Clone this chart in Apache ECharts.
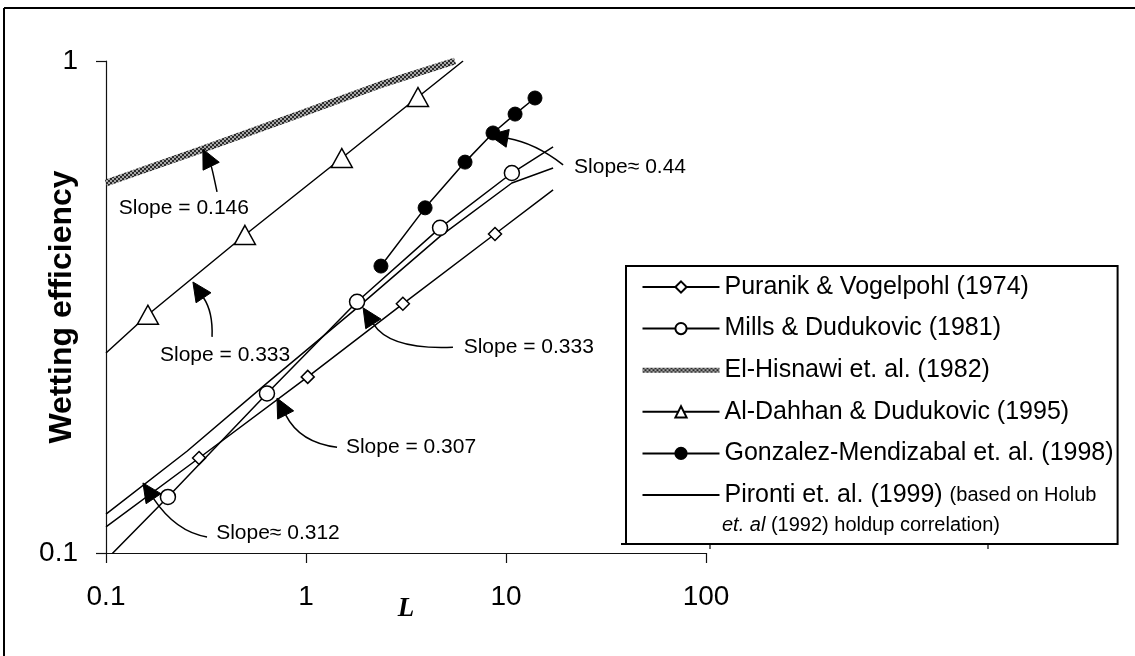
<!DOCTYPE html>
<html><head><meta charset="utf-8">
<script src="https://cdn.jsdelivr.net/npm/echarts@6/dist/echarts.min.js"></script>
<style>html,body{margin:0;padding:0;background:#fff}#c{width:1135px;height:656px}</style>
</head><body><div id="c"></div>
<script>
// ---------------- data ----------------
const xTicks = [0.1, 1, 10, 100];
const yTicks = [0.1, 1];

// Puranik & Vogelpohl (1974)
const puranikLineL = [0.1, 17.2];
const puranikLineE = [0.113, 0.547];
const puranikMarkL = [0.292, 1.02, 3.05, 8.81];
const puranikMarkE = [0.156, 0.228, 0.321, 0.445];

// Mills & Dudukovic (1981)
const millsLineL = [0.1, 17.2];
const millsLineE = [0.0968, 0.669];
const millsMarkL = [0.204, 0.638, 1.80, 4.68, 10.7];
const millsMarkE = [0.130, 0.211, 0.324, 0.458, 0.592];

// El-Hisnawi et. al. (1982)
const hisnawiL = [0.1, 0.295, 0.933, 2.34, 5.56];
const hisnawiE = [0.565, 0.659, 0.780, 0.894, 1.0];

// Al-Dahhan & Dudukovic (1995)
const dahhanLineL = [0.1, 6.1];
const dahhanLineE = [0.255, 1.0];
const dahhanMarkL = [0.162, 0.495, 1.51, 3.63];
const dahhanMarkE = [0.305, 0.443, 0.635, 0.845];

// Gonzalez-Mendizabal et. al. (1998)
const gonzMarkL = [2.37, 3.94, 6.24, 8.61, 11.1, 13.96];
const gonzMarkE = [0.383, 0.503, 0.623, 0.714, 0.780, 0.841];

// Pironti et. al. (1999)
const pirontiL = [0.1, 0.254, 0.638, 1.80, 4.68, 10.7, 17.2];
const pirontiE = [0.120, 0.161, 0.2215, 0.315, 0.44, 0.565, 0.606];

const seriesNames = [
  'Puranik & Vogelpohl (1974)',
  'Mills & Dudukovic (1981)',
  'El-Hisnawi et. al. (1982)',
  'Al-Dahhan & Dudukovic (1995)',
  'Gonzalez-Mendizabal et. al. (1998)',
  'Pironti et. al. (1999)'
];

// slope annotations: text, text position, arrow tail, control point, arrow tip (data coords)
const annotations = [
  {text: 'Slope = 0.146', at: [0.245, 0.503], tail: [0.359, 0.542], ctrl: [0.339, 0.606], tip: [0.305, 0.662]},
  {text: 'Slope = 0.333', at: [0.394, 0.2526], tail: [0.339, 0.275], ctrl: [0.343, 0.309], tip: [0.272, 0.3555]},
  {text: 'Slope = 0.333', at: [13.0, 0.262], tail: [5.43, 0.262], ctrl: [2.63, 0.2586], tip: [1.93, 0.315]},
  {text: 'Slope = 0.307', at: [3.35, 0.164], tail: [1.43, 0.164], ctrl: [0.933, 0.1674], tip: [0.716, 0.2065]},
  {text: 'Slope\u2248 0.312', at: [0.724, 0.1098], tail: [0.320, 0.1078], ctrl: [0.224, 0.1103], tip: [0.153, 0.1388]},
  {text: 'Slope\u2248 0.44', at: [41.7, 0.609], tail: [19.3, 0.615], ctrl: [13.96, 0.681], tip: [8.22, 0.707]}
];

// ---------------- helpers ----------------
function build(lineL, lineE, markL, markE) {
  const pts = [];
  lineL.forEach((l, i) => pts.push({value: [l, lineE[i]], symbol: 'none'}));
  markL.forEach((l, i) => pts.push({value: [l, markE[i]]}));
  pts.sort((a, b) => a.value[0] - b.value[0]);
  return pts;
}
const pair = (L, E) => L.map((l, i) => [l, E[i]]);

const FONT = '"Liberation Sans", Arial, Helvetica, sans-serif';

// hatched pattern for El-Hisnawi line
const pc = document.createElement('canvas');
pc.width = 4; pc.height = 4;
const g = pc.getContext('2d');
g.fillStyle = '#a8a8a8'; g.fillRect(0, 0, 4, 4);
g.fillStyle = '#2a2a2a'; g.fillRect(0, 0, 2, 2); g.fillRect(2, 2, 2, 2);
const hatch = {image: pc, repeat: 'repeat'};

const chart = echarts.init(document.getElementById('c'), null, {renderer: 'canvas'});

const baseLine = {type: 'line', animation: false, showAllSymbol: true, clip: true,
  lineStyle: {color: '#000', width: 1.5}};
const noIcon = {color: 'rgba(0,0,0,0)', borderColor: 'rgba(0,0,0,0)'};

const option = {
  animation: false,
  backgroundColor: '#fff',
  grid: {left: 106, right: 429, top: 61, bottom: 103, containLabel: false},
  xAxis: {
    type: 'log', logBase: 10, min: 0.1, max: 100,
    name: 'L', nameLocation: 'middle', nameGap: 43, nameMoveOverlap: false,
    nameTextStyle: {fontFamily: '"Liberation Serif", "Times New Roman", serif', fontStyle: 'italic', fontWeight: 'bold', fontSize: 27, color: '#000'},
    axisLine: {lineStyle: {color: '#111', width: 1.2}},
    axisTick: {show: true, length: 10, inside: false, lineStyle: {color: '#111', width: 1.2}},
    axisLabel: {fontFamily: FONT, fontSize: 28, color: '#000', margin: 30,
      formatter: v => { const t = xTicks.find(k => Math.abs(k - v) / k < 1e-6); return t === undefined ? '' : String(t); }},
    splitLine: {show: false}, minorTick: {show: false}
  },
  yAxis: {
    type: 'log', logBase: 10, min: 0.1, max: 1,
    name: 'Wetting efficiency', nameLocation: 'middle', nameGap: 28, nameMoveOverlap: false,
    nameTextStyle: {fontFamily: FONT, fontWeight: 'bold', fontSize: 32, color: '#000'},
    axisLine: {lineStyle: {color: '#111', width: 1.2}},
    axisTick: {show: true, length: 10, inside: false, lineStyle: {color: '#111', width: 1.2}},
    axisLabel: {fontFamily: FONT, fontSize: 28, color: '#000', margin: 28,
      formatter: v => { const t = yTicks.find(k => Math.abs(k - v) / k < 1e-6); return t === undefined ? '' : String(t); }},
    splitLine: {show: false}, minorTick: {show: false}
  },
  legend: {
    orient: 'vertical', left: 626, top: 266,
    itemWidth: 77, itemHeight: 14, itemGap: 13.6,
    padding: [7, 4, 35, 14],
    borderColor: '#000', borderWidth: 2, backgroundColor: '#fff',
    selectedMode: false,
    textStyle: {fontFamily: FONT, fontSize: 25, color: '#000', lineHeight: 28,
      rich: {
        a: {fontFamily: FONT, fontSize: 25, color: '#000', lineHeight: 28},
        b: {fontFamily: FONT, fontSize: 20, color: '#000', lineHeight: 28}
      }},
    formatter: name => name === seriesNames[5] ? '{a|Pironti et. al. (1999)} {b|(based on Holub}' : name,
    data: [
      {name: seriesNames[0]}, {name: seriesNames[1]},
      {name: seriesNames[2], itemStyle: noIcon, lineStyle: {width: 5}},
      {name: seriesNames[3]}, {name: seriesNames[4]},
      {name: seriesNames[5], itemStyle: noIcon}
    ]
  },
  series: [
    Object.assign({}, baseLine, {
      name: seriesNames[2], data: pair(hisnawiL, hisnawiE), symbol: 'none',
      lineStyle: {color: hatch, width: 7}, itemStyle: {color: '#777'}, z: 2
    }),
    Object.assign({}, baseLine, {
      name: seriesNames[3], data: build(dahhanLineL, dahhanLineE, dahhanMarkL, dahhanMarkE),
      symbol: 'triangle', symbolSize: [21, 19],
      itemStyle: {color: '#fff', borderColor: '#000', borderWidth: 1.5}, z: 3
    }),
    Object.assign({}, baseLine, {
      name: seriesNames[5], data: pair(pirontiL, pirontiE), symbol: 'none',
      itemStyle: {color: '#000'}, z: 3
    }),
    Object.assign({}, baseLine, {
      name: seriesNames[0], data: build(puranikLineL, puranikLineE, puranikMarkL, puranikMarkE),
      symbol: 'diamond', symbolSize: 13,
      itemStyle: {color: '#fff', borderColor: '#000', borderWidth: 1.5}, z: 4
    }),
    Object.assign({}, baseLine, {
      name: seriesNames[1], data: build(millsLineL, millsLineE, millsMarkL, millsMarkE),
      symbol: 'circle', symbolSize: 15,
      itemStyle: {color: '#fff', borderColor: '#000', borderWidth: 1.5}, z: 5
    }),
    Object.assign({}, baseLine, {
      name: seriesNames[4], data: pair(gonzMarkL, gonzMarkE),
      symbol: 'circle', symbolSize: 14,
      itemStyle: {color: '#000', borderColor: '#000', borderWidth: 1}, z: 6
    })
  ]
};
chart.setOption(option);

// ---------------- annotations & decorations ----------------
const px = p => chart.convertToPixel({xAxisIndex: 0, yAxisIndex: 0}, p);
const elements = [];
annotations.forEach(a => {
  const t = px(a.at), s = px(a.tail), c = px(a.ctrl), h = px(a.tip);
  const dx = h[0] - c[0], dy = h[1] - c[1], len = Math.hypot(dx, dy);
  const ux = dx / len, uy = dy / len, hl = 19, hw = 9;
  const bx = h[0] - ux * hl, by = h[1] - uy * hl;
  elements.push({type: 'bezierCurve', z: 20, silent: true,
    shape: {x1: s[0], y1: s[1], x2: bx, y2: by, cpx1: c[0], cpy1: c[1]},
    style: {stroke: '#000', lineWidth: 1.5, fill: null}});
  elements.push({type: 'polygon', z: 21, silent: true,
    shape: {points: [[h[0], h[1]], [bx - uy * hw, by + ux * hw], [bx + uy * hw, by - ux * hw]]},
    style: {fill: '#000', stroke: '#000', lineWidth: 1}});
  elements.push({type: 'text', z: 22, silent: true, x: t[0], y: t[1],
    style: {text: a.text, font: '21px ' + FONT, fill: '#000', align: 'center', verticalAlign: 'middle'}});
});
// second line of the Pironti legend entry
elements.push({type: 'text', z: 30, silent: true, x: 722, y: 525,
  style: {text: '{i|et. al} (1992) holdup correlation)', font: '20px ' + FONT, fill: '#000',
    verticalAlign: 'middle', rich: {i: {fontStyle: 'italic', fontSize: 20, fontFamily: FONT}}}});
// small leftover tick marks just under the legend box
elements.push({type: 'line', z: 30, silent: true, shape: {x1: 621, y1: 544, x2: 630, y2: 544}, style: {stroke: '#000', lineWidth: 2}});
elements.push({type: 'line', z: 30, silent: true, shape: {x1: 710, y1: 544, x2: 710, y2: 549}, style: {stroke: '#000', lineWidth: 1.2}});
elements.push({type: 'line', z: 30, silent: true, shape: {x1: 988, y1: 544, x2: 988, y2: 549}, style: {stroke: '#000', lineWidth: 1.2}});
// outer frame (top & left edges of the figure)
elements.push({type: 'line', z: 40, silent: true, shape: {x1: 4, y1: 8, x2: 1135, y2: 8}, style: {stroke: '#000', lineWidth: 2}});
elements.push({type: 'line', z: 40, silent: true, shape: {x1: 4, y1: 8, x2: 4, y2: 656}, style: {stroke: '#000', lineWidth: 2}});
chart.setOption({graphic: {elements}});
</script>
</body></html>
